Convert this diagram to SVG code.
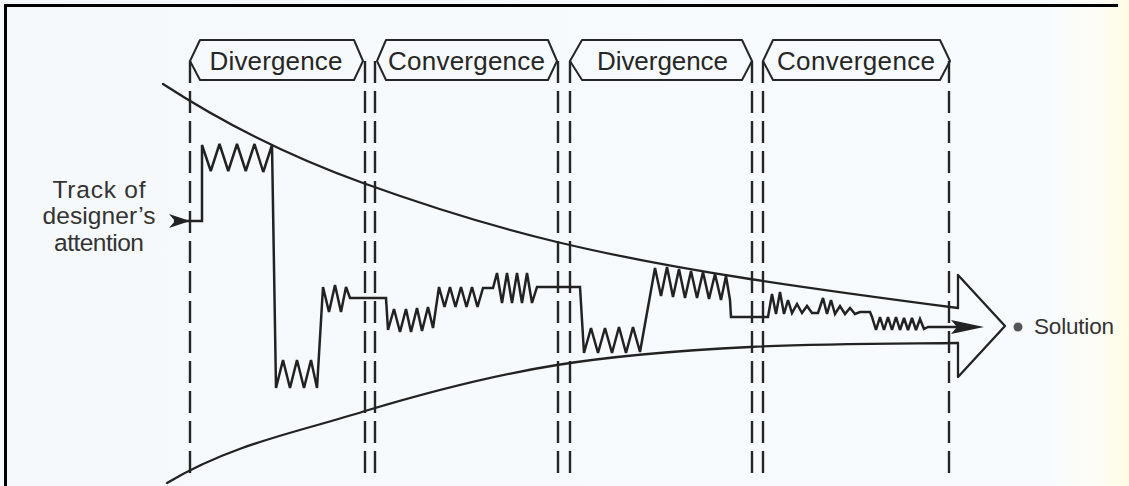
<svg xmlns="http://www.w3.org/2000/svg" width="1129" height="486" viewBox="0 0 1129 486">
<defs>
<linearGradient id="bg" x1="0" y1="0" x2="1" y2="0">
<stop offset="0" stop-color="#f6f9fb"/>
<stop offset="0.93" stop-color="#f8fbfd"/>
<stop offset="0.97" stop-color="#fdfdf6"/>
<stop offset="1" stop-color="#fffbe4"/>
</linearGradient>
<style>
.ink{fill:none;stroke:#222;stroke-width:2.3;stroke-linejoin:round;stroke-linecap:round}
.trk{fill:none;stroke:#222;stroke-width:2.5;stroke-linejoin:miter;stroke-miterlimit:3;stroke-linecap:round}
.dash{fill:none;stroke:#262626;stroke-width:2.4;stroke-dasharray:22 8}
.hex{fill:none;stroke:#262626;stroke-width:2;stroke-linejoin:round}
.lbl{font-family:"Liberation Sans",Arial,sans-serif;font-size:26px;fill:#262626;text-anchor:middle}
.side{font-family:"Liberation Sans",Arial,sans-serif;font-size:24.5px;fill:#333;text-anchor:middle}
.sol{font-family:"Liberation Sans",Arial,sans-serif;font-size:22.5px;fill:#333}
.frame{stroke:#000;stroke-width:3;fill:none}
</style>
</defs>
<rect x="0" y="0" width="1129" height="486" fill="url(#bg)"/>
<path class="frame" d="M5.5,486 V5.5 H1118"/>

<g id="phase-lines">
<line class="dash" x1="190" y1="61" x2="190" y2="480"/>
<line class="dash" x1="365" y1="61" x2="365" y2="480"/>
<line class="dash" x1="375" y1="61" x2="375" y2="480"/>
<line class="dash" x1="558" y1="61" x2="558" y2="480"/>
<line class="dash" x1="570" y1="61" x2="570" y2="480"/>
<line class="dash" x1="752" y1="61" x2="752" y2="480"/>
<line class="dash" x1="763" y1="61" x2="763" y2="480"/>
<line class="dash" x1="949" y1="61" x2="949" y2="480"/>
</g>

<g id="label-divergence-1">
<polygon class="hex" points="190,61 200,40 354,40 363,61 354,80 200,80"/>
<text class="lbl" x="276" y="69.5" textLength="133">Divergence</text>
</g>
<g id="label-convergence-1">
<polygon class="hex" points="377,61 386,40 548,40 557,61 548,80 386,80"/>
<text class="lbl" x="466.5" y="69.5" textLength="157">Convergence</text>
</g>
<g id="label-divergence-2">
<polygon class="hex" points="570,61 582,40 742,40 752,61 742,80 582,80"/>
<text class="lbl" x="662.5" y="69.5" textLength="131">Divergence</text>
</g>
<g id="label-convergence-2">
<polygon class="hex" points="763,61 773,40 940,40 950,61 940,80 773,80"/>
<text class="lbl" x="856" y="69.5" textLength="158">Convergence</text>
</g>

<g id="funnel">
<path class="ink" d="M163,84 C229.7,127.4 296.3,159 363,183 C427.7,206.3 492.3,226.5 557,242 C621.3,257.4 685.7,269 750,279 C819.3,289.7 888.7,299 958,308"/>
<path class="ink" d="M167,483 C233,443.4 299,432 365,411 C429,391.8 493,375.2 557,365 C621.3,354.7 685.7,350.2 750,347 C819.3,343.5 888.7,343.7 958,343"/>
<path class="ink" d="M958,308 V275 L1005,326 L958,377 V343"/>
</g>

<g id="track-label">
<text class="side" x="99" y="198" textLength="93">Track of</text>
<text class="side" x="99" y="224" textLength="113">designer’s</text>
<text class="side" x="99" y="251" textLength="90">attention</text>
</g>

<g id="connectors">
<polygon points="190,221 169,214 175,221 169,228" fill="#222"/>
<path class="trk" d="M175,221 L202,221 L202,145 L210.75,171 L219.5,144 L228.25,171 L237,144 L245.75,171 L254.5,144 L263.25,172 L272,145 L276,388 L283,360 L290,388 L297,360 L304,388 L311,360 L317,388 L323,287 L329,312 L335,285 L341,312 L346,287 L350,298 L386,298 L388,330 L394,309 L400,332 L406,309 L411,332 L417,308 L422,331 L428,307 L433,328 L439,287 L444.5,307 L450,287 L455.5,307 L461,287 L466.5,307 L472,287 L477.5,307 L483,288 L493,288 L497,273 L502,303 L507,273 L512,303 L517,273 L522,303 L527,273 L532,303 L537,287 L580,287 L584,353 L591,328 L598,353 L605,328 L612,353 L619,327 L626,353 L633,327 L640,352 L655,268 L661,296 L667,267 L673,297 L679,269 L685,298 L691,271 L697,298 L703,272 L709,299 L715,274 L721,300 L726,276 L730,300 L731,317 L768,317 L772,294 L776,314 L780,292 L784,314 L788,300 L792,313 L797,304 L802,313 L807,306 L812,313 L818,313 L823,298 L827,314 L831,300 L835,314 L840,306 L845,314 L850,308 L855,314 L860,312 L870,312 L872,317 L876,330 L880,317 L884,330 L888,317 L892,330 L896,317 L900,330 L904,318 L908,330 L912,318 L916,330 L920,319 L924,329 L928,327 L956,327"/>
<polygon points="984,327 951,320 957,327 951,334" fill="#222"/>
</g>

<g id="solution">
<circle cx="1018" cy="327" r="4.5" fill="#555"/>
<text class="sol" x="1034" y="334" textLength="80">Solution</text>
</g>
</svg>
